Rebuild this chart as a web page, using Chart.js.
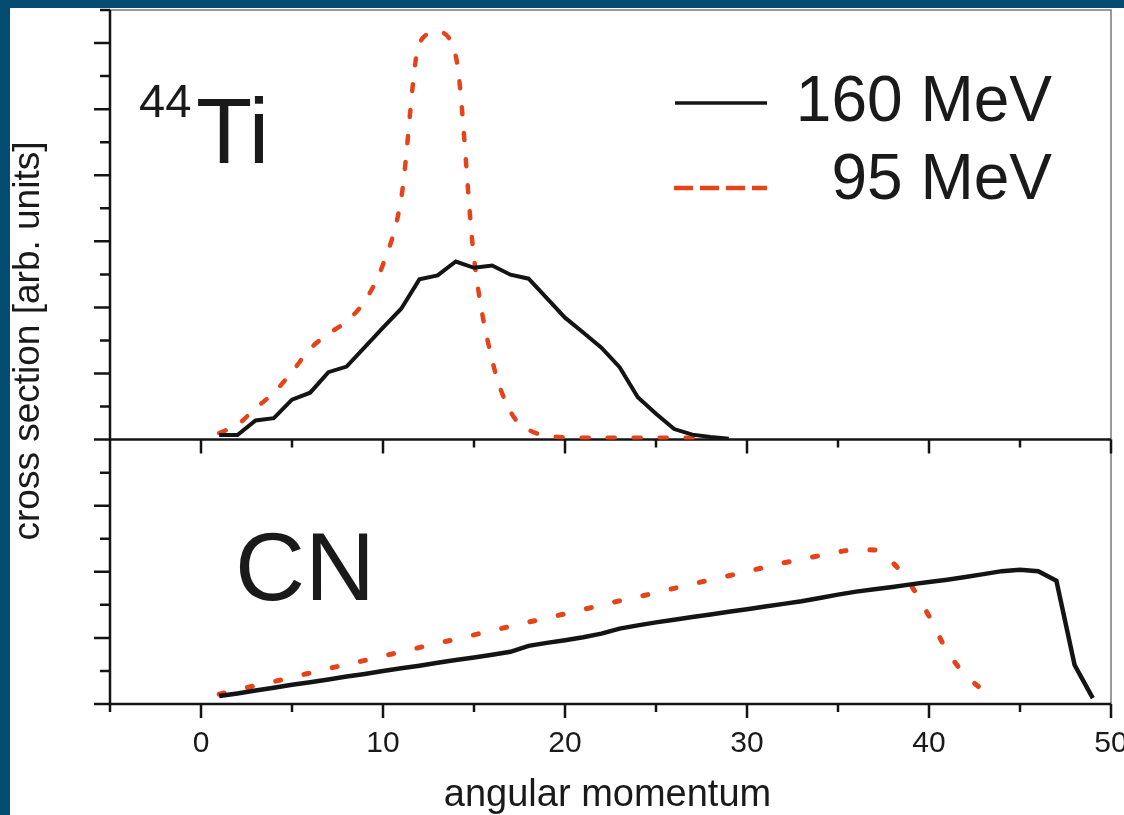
<!DOCTYPE html>
<html lang="en">
<head>
    <meta charset="UTF-8">
    <title>44Ti and CN cross section vs angular momentum</title>
    <script src="https://cdn.jsdelivr.net/npm/chart.js"></script>
    <style>
        * { margin: 0; padding: 0; }
        body {
            background: #044c72;
            width: 1124px;
            height: 815px;
            overflow: hidden;
        }
        #chartContainer {
            position: absolute;
            left: 10px;
            top: 8px;
            width: 1114px;
            height: 807px;
            background: #ffffff;
        }
    </style>
</head>
<body>
    <div id="chartContainer">
        <canvas id="xsChart" width="1114" height="807"></canvas>
    </div>

    <script>
        // upper panel: 44Ti
        const tiL160 = [1, 2, 3, 4, 5, 6, 7, 8, 9, 10, 11, 12, 13, 14, 15, 16, 17, 18, 19, 20,
                        21, 22, 23, 24, 25, 26, 27, 28, 29];
        const ti160 = [0.14, 0.14, 0.58, 0.65, 1.21, 1.42, 2.04, 2.21, 2.80, 3.39,
                       3.96, 4.85, 4.97, 5.39, 5.20, 5.27, 4.99, 4.87, 4.28, 3.69,
                       3.24, 2.78, 2.19, 1.28, 0.78, 0.32, 0.15, 0.08, 0.03];

        const tiL95 = [1, 2, 3, 4, 5, 6, 7, 8, 9, 10, 11, 12, 13, 14, 15, 16, 17, 18, 19, 20,
                       21, 22, 23, 24, 25, 26, 27, 28];
        const ti95 = [0.20, 0.45, 0.95, 1.42, 2.05, 2.75, 3.20, 3.58, 4.20, 5.30,
                      7.30, 12.00, 12.33, 11.60, 5.50, 2.40, 0.85, 0.30, 0.12, 0.07,
                      0.06, 0.06, 0.06, 0.06, 0.06, 0.06, 0.06, 0.06];

        // lower panel: compound nucleus
        const cnL160 = [1, 2, 3, 4, 5, 6, 7, 8, 9, 10, 11, 12, 13, 14, 15, 16, 17, 18, 19, 20,
                        21, 22, 23, 24, 25, 26, 27, 28, 29, 30, 31, 32, 33, 34, 35, 36, 37, 38, 39, 40,
                        41, 42, 43, 44, 45, 46, 47, 48, 49];
        const cn160 = [0.24, 0.32, 0.41, 0.49, 0.58, 0.66, 0.74, 0.83, 0.91, 1.00,
                       1.08, 1.16, 1.25, 1.33, 1.41, 1.49, 1.58, 1.76, 1.85, 1.93,
                       2.02, 2.13, 2.28, 2.38, 2.47, 2.55, 2.63, 2.71, 2.79, 2.87,
                       2.95, 3.03, 3.11, 3.21, 3.31, 3.40, 3.47, 3.54, 3.62, 3.69,
                       3.76, 3.84, 3.93, 4.02, 4.06, 4.02, 3.73, 1.18, 0.18];

        const cnL95 = [1, 2, 3, 4, 5, 6, 7, 8, 9, 10, 11, 12, 13, 14, 15, 16, 17, 18, 19, 20,
                       21, 22, 23, 24, 25, 26, 27, 28, 29, 30, 31, 32, 33, 34, 35, 36, 37, 38, 39, 40,
                       41, 42, 43];
        const cn95 = [0.30, 0.43, 0.56, 0.68, 0.81, 0.94, 1.07, 1.20, 1.32, 1.45,
                      1.58, 1.71, 1.84, 1.96, 2.09, 2.22, 2.35, 2.48, 2.60, 2.73,
                      2.86, 2.99, 3.12, 3.24, 3.37, 3.50, 3.63, 3.76, 3.88, 4.01,
                      4.14, 4.27, 4.38, 4.49, 4.60, 4.67, 4.66, 4.28, 3.60, 2.66,
                      1.60, 0.88, 0.40];

        const xTickLabels = [0, 10, 20, 30, 40, 50];
        const seriesNames = ['160 MeV', '95 MeV'];

        const BLACK = '#141414';
        const RED = '#e5441b';
        const FONT = "'Liberation Sans', Arial, sans-serif";

        const pts = (xs, ys) => xs.map((v, i) => ({x: v, y: ys[i]}));

        // axes, ticks and all the text are drawn by hand (two panels share one x axis)
        const panelFrame = {
            id: 'panelFrame',
            beforeDatasetsDraw(chart) {
                const {ctx, chartArea: a, scales} = chart;
                const x = scales.x;
                const panels = [scales.yTi, scales.yCN];
                ctx.save();

                ctx.strokeStyle = '#7a7a7a';
                ctx.lineWidth = 1.5;
                ctx.beginPath();
                ctx.moveTo(a.left, a.top);
                ctx.lineTo(a.right, a.top);
                ctx.lineTo(a.right, a.bottom);
                ctx.stroke();

                ctx.strokeStyle = BLACK;
                ctx.lineWidth = 2.5;
                ctx.beginPath();
                ctx.moveTo(a.left, a.top);
                ctx.lineTo(a.left, a.bottom);
                panels.forEach(s => {
                    for (let v = s.min; v <= s.max; v++) {
                        const py = s.getPixelForValue(v);
                        const len = v % 2 === 0 ? 16 : 10;
                        ctx.moveTo(a.left - len, py);
                        ctx.lineTo(a.left, py);
                    }
                    const base = s.getPixelForValue(0);
                    ctx.moveTo(a.left, base);
                    ctx.lineTo(a.right, base);
                    for (let v = x.min; v <= x.max; v += 5) {
                        const px = x.getPixelForValue(v);
                        const len = v % 10 === 0 ? 14 : 8;
                        ctx.moveTo(px, base);
                        ctx.lineTo(px, base + len);
                    }
                });
                ctx.stroke();
                ctx.restore();
            },
            afterDatasetsDraw(chart) {
                const {ctx, chartArea: a, scales} = chart;
                const x = scales.x;
                const bottom = scales.yCN.getPixelForValue(0);
                ctx.save();
                ctx.fillStyle = '#1a1a1a';

                ctx.font = '30px ' + FONT;
                ctx.textAlign = 'center';
                ctx.textBaseline = 'alphabetic';
                xTickLabels.forEach(v => ctx.fillText(String(v), x.getPixelForValue(v), bottom + 48));

                ctx.font = '38px ' + FONT;
                ctx.fillText('angular momentum', (a.left + a.right) / 2 - 3, bottom + 102);

                ctx.save();
                ctx.translate(29, a.top + 331);
                ctx.rotate(-Math.PI / 2);
                ctx.font = '37px ' + FONT;
                ctx.fillText('cross section [arb. units]', 0, 0);
                ctx.restore();

                // panel labels
                ctx.textAlign = 'left';
                ctx.font = '47px ' + FONT;
                ctx.fillText('44', a.left + 29, a.top + 107);
                ctx.font = '92px ' + FONT;
                ctx.fillText('Ti', a.left + 86, a.top + 153);
                ctx.font = '97px ' + FONT;
                ctx.fillText('CN', a.left + 125, a.top + 590);

                // legend
                ctx.lineWidth = 3.5;
                ctx.strokeStyle = BLACK;
                ctx.beginPath();
                ctx.moveTo(a.left + 565, a.top + 93);
                ctx.lineTo(a.left + 657, a.top + 93);
                ctx.stroke();
                ctx.strokeStyle = RED;
                ctx.lineWidth = 4.5;
                ctx.setLineDash([19, 7]);
                ctx.beginPath();
                ctx.moveTo(a.left + 564, a.top + 178);
                ctx.lineTo(a.left + 657, a.top + 178);
                ctx.stroke();
                ctx.setLineDash([]);

                ctx.textAlign = 'right';
                ctx.font = '64px ' + FONT;
                ctx.fillText(seriesNames[0], a.left + 942, a.top + 111);
                ctx.fillText(seriesNames[1], a.left + 942, a.top + 189);
                ctx.restore();
            }
        };

        const ctx = document.getElementById('xsChart').getContext('2d');
        const xsChart = new Chart(ctx, {
            type: 'line',
            data: {
                datasets: [
                    {
                        label: '44Ti ' + seriesNames[0],
                        data: pts(tiL160, ti160),
                        yAxisID: 'yTi',
                        borderColor: BLACK,
                        borderWidth: 4,
                        tension: 0,
                        pointRadius: 0
                    },
                    {
                        label: 'CN ' + seriesNames[0],
                        data: pts(cnL160, cn160),
                        yAxisID: 'yCN',
                        borderColor: BLACK,
                        borderWidth: 4.5,
                        tension: 0,
                        pointRadius: 0
                    },
                    {
                        label: '44Ti ' + seriesNames[1],
                        data: pts(tiL95, ti95),
                        yAxisID: 'yTi',
                        borderColor: RED,
                        borderWidth: 4.5,
                        borderDash: [7, 19],
                        borderCapStyle: 'round',
                        cubicInterpolationMode: 'monotone',
                        pointRadius: 0
                    },
                    {
                        label: 'CN ' + seriesNames[1],
                        data: pts(cnL95, cn95),
                        yAxisID: 'yCN',
                        borderColor: RED,
                        borderWidth: 5,
                        borderDash: [5, 24],
                        borderCapStyle: 'round',
                        cubicInterpolationMode: 'monotone',
                        pointRadius: 0
                    }
                ]
            },
            options: {
                responsive: false,
                animation: false,
                devicePixelRatio: 1,
                layout: {
                    padding: {left: 100, top: 2, right: 13, bottom: 111}
                },
                scales: {
                    x: {
                        type: 'linear',
                        min: -5,
                        max: 50,
                        display: false
                    },
                    yCN: {
                        type: 'linear',
                        position: 'left',
                        stack: 'panels',
                        stackWeight: 8,
                        min: 0,
                        max: 8,
                        display: false
                    },
                    yTi: {
                        type: 'linear',
                        position: 'left',
                        stack: 'panels',
                        stackWeight: 13,
                        min: 0,
                        max: 13,
                        display: false
                    }
                },
                plugins: {
                    legend: { display: false },
                    tooltip: { enabled: false }
                }
            },
            plugins: [panelFrame]
        });
    </script>
</body>
</html>
